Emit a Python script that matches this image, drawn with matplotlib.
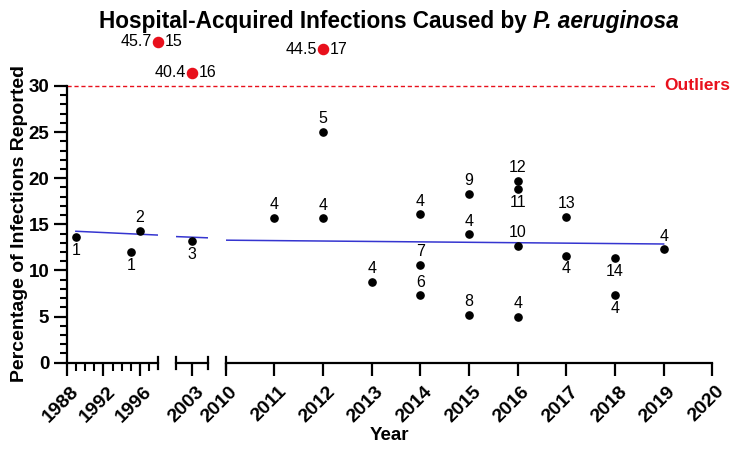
import numpy as np
import matplotlib
matplotlib.use('Agg')
import matplotlib.pyplot as plt
from matplotlib.transforms import blended_transform_factory, ScaledTranslation
from matplotlib.ticker import FixedLocator

plt.rcParams['font.family'] = ['Liberation Sans', 'DejaVu Sans']

# data points (year, % reported, study label, label above/below)
years = [1989, 1995, 1996, 2003, 2011, 2012, 2012, 2013, 2014, 2014, 2014,
         2015, 2015, 2015, 2016, 2016, 2016, 2016, 2017, 2017, 2018, 2018, 2019]
values = [13.6, 12.0, 14.3, 13.2, 15.7, 25.0, 15.65, 8.8, 16.1, 10.6, 7.3,
          18.3, 13.9, 5.2, 19.7, 18.8, 12.7, 5.0, 15.8, 11.6, 11.3, 7.35, 12.3]
labels = ['1', '1', '2', '3', '4', '5', '4', '4', '4', '7', '6',
          '9', '4', '8', '12', '11', '10', '4', '13', '4', '14', '4', '4']
label_side = ['below', 'below', 'above', 'below', 'above', 'above', 'above', 'above',
              'above', 'above', 'above', 'above', 'above', 'above', 'above', 'below',
              'above', 'above', 'above', 'below', 'below', 'below', 'above']

# outliers (drawn above the 30% line)
out_years = [1998, 2003, 2012]
out_plot_y = [34.8, 31.45, 34.0]
out_values = ['45.7', '40.4', '44.5']
out_labels = ['15', '16', '17']

# trend line end points
trend_years = [1989, 2019]
trend_values = [14.25, 12.87]

# broken x axis segments
seg_limits = [(1988, 1998), (2001.5, 2004.5), (2010, 2020)]
seg_major = [[1988, 1992, 1996], [2003], list(range(2010, 2021))]
seg_minor = [[1989, 1990, 1991, 1993, 1994, 1995, 1997], [], []]

W, H = 738, 451
fig = plt.figure(figsize=(W / 100, H / 100), dpi=100)

bottom = 88.3 / H
height = 276.7 / H
boxes = [(66.7, 91.6), (175.7, 32.6), (225.7, 486.6)]
axes = [fig.add_axes([l / W, bottom, w / W, height]) for l, w in boxes]

caps = [[1998], [2001.5, 2004.5], [2010]]

for i, ax in enumerate(axes):
    lo, hi = seg_limits[i]
    ax.set_xlim(lo, hi)
    ax.set_ylim(0, 30)
    ax.patch.set_visible(False)
    for s in ['top', 'right']:
        ax.spines[s].set_visible(False)
    ax.spines['bottom'].set_linewidth(1.6)
    if i == 0:
        ax.spines['left'].set_linewidth(1.6)
        ax.yaxis.set_major_locator(FixedLocator(range(0, 31, 5)))
        ax.yaxis.set_minor_locator(FixedLocator(range(0, 31)))
        ax.tick_params(axis='y', which='major', length=9.5, width=1.6, labelsize=13.5, pad=3)
        ax.tick_params(axis='y', which='minor', length=5, width=1.5)
        for t in ax.get_yticklabels():
            t.set_fontweight('bold')
    else:
        ax.spines['left'].set_visible(False)
        ax.tick_params(axis='y', which='both', left=False, labelleft=False)

    ax.xaxis.set_major_locator(FixedLocator(seg_major[i]))
    ax.xaxis.set_minor_locator(FixedLocator(seg_minor[i]))
    ax.set_xticklabels([str(y) for y in seg_major[i]], rotation=45, ha='right',
                       rotation_mode='anchor', fontweight='bold')
    ax.tick_params(axis='x', which='major', length=9.5, width=1.6, labelsize=14, pad=5)
    ax.tick_params(axis='x', which='minor', length=5.5, width=1.5)
    shift = ScaledTranslation(2.5 / 72, 0, fig.dpi_scale_trans)
    for t in ax.get_xticklabels():
        t.set_transform(t.get_transform() + shift)

    for c in caps[i]:
        ax.axvline(c, ymin=-0.022, ymax=0.022, color='black', lw=1.6, clip_on=False)

    # trend line
    ax.plot(trend_years, trend_values, color='#3535d0', lw=1.1)

    # points with labels
    for x, y, lab, side in zip(years, values, labels, label_side):
        if lo <= x <= hi:
            ax.plot(x, y, 'o', color='black', ms=5.2, clip_on=False, zorder=3)
            dy = 9.5 if side == 'above' else -9.5
            ax.annotate(lab, (x, y), xytext=(0, dy), textcoords='offset points',
                        ha='center', va='center', fontsize=11.5, annotation_clip=False)

    for x, y, v, lab in zip(out_years, out_plot_y, out_values, out_labels):
        if lo <= x <= hi:
            ax.plot(x, y, 'o', color='#e8101c', ms=7.3, clip_on=False, zorder=3)
            ax.annotate(v, (x, y), xytext=(-4.5, 0), textcoords='offset points',
                        ha='right', va='center', fontsize=11.5, annotation_clip=False)
            ax.annotate(lab, (x, y), xytext=(4.5, 0), textcoords='offset points',
                        ha='left', va='center', fontsize=11.5, annotation_clip=False)

# outlier threshold line across the whole plot
ax1 = axes[0]
tr = blended_transform_factory(fig.transFigure, ax1.transData)
ax1.plot([66.7 / W, 657 / W], [30, 30], color='#e8101c', lw=1, ls=(0, (3, 2)),
         transform=tr, clip_on=False)
ax1.text(664 / W, 30, 'Outliers', transform=tr, color='#e8101c', fontsize=12.5,
         fontweight='bold', ha='left', va='center')

# title: regular bold part + italic species name, centred together
title_y = 1 - 28.3 / H
t1 = fig.text(0, title_y, 'Hospital-Acquired Infections Caused by', ha='left',
              va='baseline', fontsize=16.3, fontweight='bold')
t2 = fig.text(0, title_y, 'P. aeruginosa', ha='left', va='baseline', fontsize=16.3,
              fontweight='bold', style='italic')
r = fig.canvas.get_renderer()
w1 = t1.get_window_extent(r).width
w2 = t2.get_window_extent(r).width
gap = 16.3 * 0.278 * 100 / 72
x0 = 389 - (w1 + gap + w2) / 2
t1.set_x(x0 / W)
t2.set_x((x0 + w1 + gap) / W)

fig.text(389 / W, 11 / H, 'Year', ha='center', va='baseline', fontsize=13.5,
         fontweight='bold')
fig.text(24 / W, 1 - 224 / H, 'Percentage of Infections Reported', rotation=90,
         rotation_mode='anchor', ha='center', va='baseline', fontsize=14,
         fontweight='bold')

fig.savefig('out.png', dpi=100)
